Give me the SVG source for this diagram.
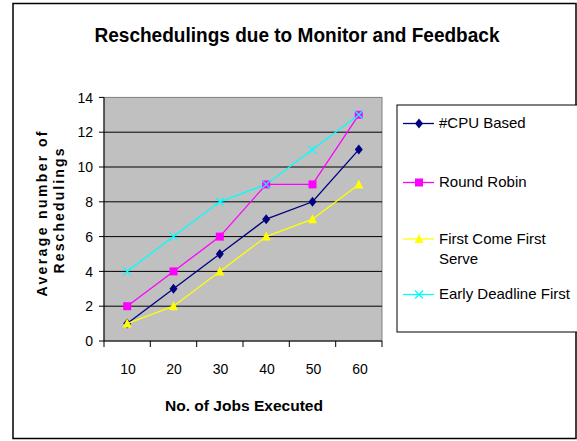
<svg xmlns="http://www.w3.org/2000/svg" xmlns:xlink="http://www.w3.org/1999/xlink" width="577" height="441" viewBox="0 0 577 441">
<style>
text{font-family:"Liberation Sans",Arial,sans-serif;fill:#000}
.tick{font-size:14px}
.bold{font-weight:bold}
.leg{font-size:15px}
.grid{stroke:#000;stroke-width:1}
.cpu{stroke:#000080;fill:none;stroke-width:1.3}
.rr{stroke:#FF00FF;fill:none;stroke-width:1.3}
.fc{stroke:#FFFF00;fill:none;stroke-width:1.3}
.edf{stroke:#00FFFF;fill:none;stroke-width:1.3}
</style>
<defs>
<path id="mDia" d="M0,-5 L4,0 L0,5 L-4,0 Z" fill="#000080"/>
<rect id="mSq" x="-4" y="-4" width="8" height="8" fill="#FF00FF"/>
<path id="mTri" d="M0,-5 L4.5,4 L-4.5,4 Z" fill="#FFFF00"/>
<path id="mX" d="M-4,-4 L4,4 M-4,4 L4,-4" stroke="#00FFFF" stroke-width="1.3" fill="none"/>
</defs>
<rect x="0" y="0" width="577" height="441" fill="#fff"/>
<rect x="13" y="3.5" width="563" height="435" fill="none" stroke="#000" stroke-width="1.5"/>
<text class="bold" x="297" y="41.5" font-size="20" text-anchor="middle" textLength="405" lengthAdjust="spacingAndGlyphs">Reschedulings due to Monitor and Feedback</text>

<g id="plot">
<rect x="104" y="97.4" width="278" height="243.6" fill="#C0C0C0" stroke="#808080" stroke-width="1"/>
<g class="grid">
<line x1="104" y1="306.2" x2="382" y2="306.2"/>
<line x1="104" y1="271.4" x2="382" y2="271.4"/>
<line x1="104" y1="236.6" x2="382" y2="236.6"/>
<line x1="104" y1="201.8" x2="382" y2="201.8"/>
<line x1="104" y1="167" x2="382" y2="167"/>
<line x1="104" y1="132.2" x2="382" y2="132.2"/>
</g>
<g stroke="#000" stroke-width="1">
<line x1="104" y1="97.4" x2="104" y2="341"/>
<line x1="104" y1="341" x2="382" y2="341"/>
<line x1="99" y1="97.4" x2="104" y2="97.4"/>
<line x1="99" y1="132.2" x2="104" y2="132.2"/>
<line x1="99" y1="167" x2="104" y2="167"/>
<line x1="99" y1="201.8" x2="104" y2="201.8"/>
<line x1="99" y1="236.6" x2="104" y2="236.6"/>
<line x1="99" y1="271.4" x2="104" y2="271.4"/>
<line x1="99" y1="306.2" x2="104" y2="306.2"/>
<line x1="99" y1="341" x2="104" y2="341"/>
<line x1="104" y1="341" x2="104" y2="347"/>
<line x1="150.3" y1="341" x2="150.3" y2="347"/>
<line x1="196.7" y1="341" x2="196.7" y2="347"/>
<line x1="243" y1="341" x2="243" y2="347"/>
<line x1="289.3" y1="341" x2="289.3" y2="347"/>
<line x1="335.7" y1="341" x2="335.7" y2="347"/>
<line x1="382" y1="341" x2="382" y2="347"/>
</g>
<g class="tick" text-anchor="end">
<text x="93" y="102.5">14</text>
<text x="93" y="137.3">12</text>
<text x="93" y="172.1">10</text>
<text x="93" y="206.9">8</text>
<text x="93" y="241.7">6</text>
<text x="93" y="276.5">4</text>
<text x="93" y="311.3">2</text>
<text x="93" y="346.1">0</text>
</g>
<g class="tick" text-anchor="middle">
<text x="128" y="374">10</text>
<text x="174" y="374">20</text>
<text x="220.5" y="374">30</text>
<text x="267" y="374">40</text>
<text x="313.5" y="374">50</text>
<text x="360" y="374">60</text>
</g>
<text class="bold" x="244" y="411" font-size="14" text-anchor="middle" textLength="158" lengthAdjust="spacingAndGlyphs">No. of Jobs Executed</text>
<g transform="translate(47,214) rotate(-90)">
<text class="bold" x="0" y="0" font-size="14" text-anchor="middle" textLength="165" lengthAdjust="spacing">Average number of</text>
</g>
<g transform="translate(64,211) rotate(-90)">
<text class="bold" x="0" y="0" font-size="14" text-anchor="middle" textLength="125" lengthAdjust="spacing">Reschedulings</text>
</g>
</g>

<g id="series-edf">
<polyline class="edf" points="127.2,271.4 173.5,236.6 219.8,201.8 266.2,184.4 312.5,149.6 358.8,114.8"/>
<use xlink:href="#mX" x="127.2" y="271.4"/><use xlink:href="#mX" x="173.5" y="236.6"/><use xlink:href="#mX" x="219.8" y="201.8"/>
</g>
<g id="series-rr">
<polyline class="rr" points="127.2,306.2 173.5,271.4 219.8,236.6 266.2,184.4 312.5,184.4 358.8,114.8"/>
<use xlink:href="#mSq" x="127.2" y="306.2"/><use xlink:href="#mSq" x="173.5" y="271.4"/><use xlink:href="#mSq" x="219.8" y="236.6"/><use xlink:href="#mSq" x="266.2" y="184.4"/><use xlink:href="#mSq" x="312.5" y="184.4"/><use xlink:href="#mSq" x="358.8" y="114.8"/>
</g>
<g id="series-edf-markers">
<use xlink:href="#mX" x="266.2" y="184.4"/><use xlink:href="#mX" x="312.5" y="149.6"/><use xlink:href="#mX" x="358.8" y="114.8"/>
</g>
<g id="series-cpu">
<polyline class="cpu" points="127.2,323.6 173.5,288.8 219.8,254 266.2,219.2 312.5,201.8 358.8,149.6"/>
<use xlink:href="#mDia" x="127.2" y="323.6"/><use xlink:href="#mDia" x="173.5" y="288.8"/><use xlink:href="#mDia" x="219.8" y="254"/><use xlink:href="#mDia" x="266.2" y="219.2"/><use xlink:href="#mDia" x="312.5" y="201.8"/><use xlink:href="#mDia" x="358.8" y="149.6"/>
</g>
<g id="series-fcfs">
<polyline class="fc" points="127.2,323.6 173.5,306.2 219.8,271.4 266.2,236.6 312.5,219.2 358.8,184.4"/>
<use xlink:href="#mTri" x="127.2" y="323.6"/><use xlink:href="#mTri" x="173.5" y="306.2"/><use xlink:href="#mTri" x="219.8" y="271.4"/><use xlink:href="#mTri" x="266.2" y="236.6"/><use xlink:href="#mTri" x="312.5" y="219.2"/><use xlink:href="#mTri" x="358.8" y="184.4"/>
</g>

<g id="legend">
<rect x="397" y="105" width="185" height="227" fill="#fff" stroke="#000" stroke-width="1"/>
<line class="cpu" x1="403" y1="123.5" x2="434" y2="123.5"/><use xlink:href="#mDia" x="419" y="123.5"/>
<text class="leg" x="439" y="128">#CPU Based</text>
<line class="rr" x1="403" y1="182.5" x2="434" y2="182.5"/><use xlink:href="#mSq" x="419" y="182.5"/>
<text class="leg" x="439" y="187">Round Robin</text>
<line class="fc" x1="403" y1="239" x2="434" y2="239"/><use xlink:href="#mTri" x="419" y="239"/>
<text class="leg" x="439" y="243.5">First Come First</text>
<text class="leg" x="439" y="263.5">Serve</text>
<line class="edf" x1="403" y1="294.5" x2="434" y2="294.5"/><use xlink:href="#mX" x="419" y="294.5"/>
<text class="leg" x="439" y="299">Early Deadline First</text>
</g>
</svg>
